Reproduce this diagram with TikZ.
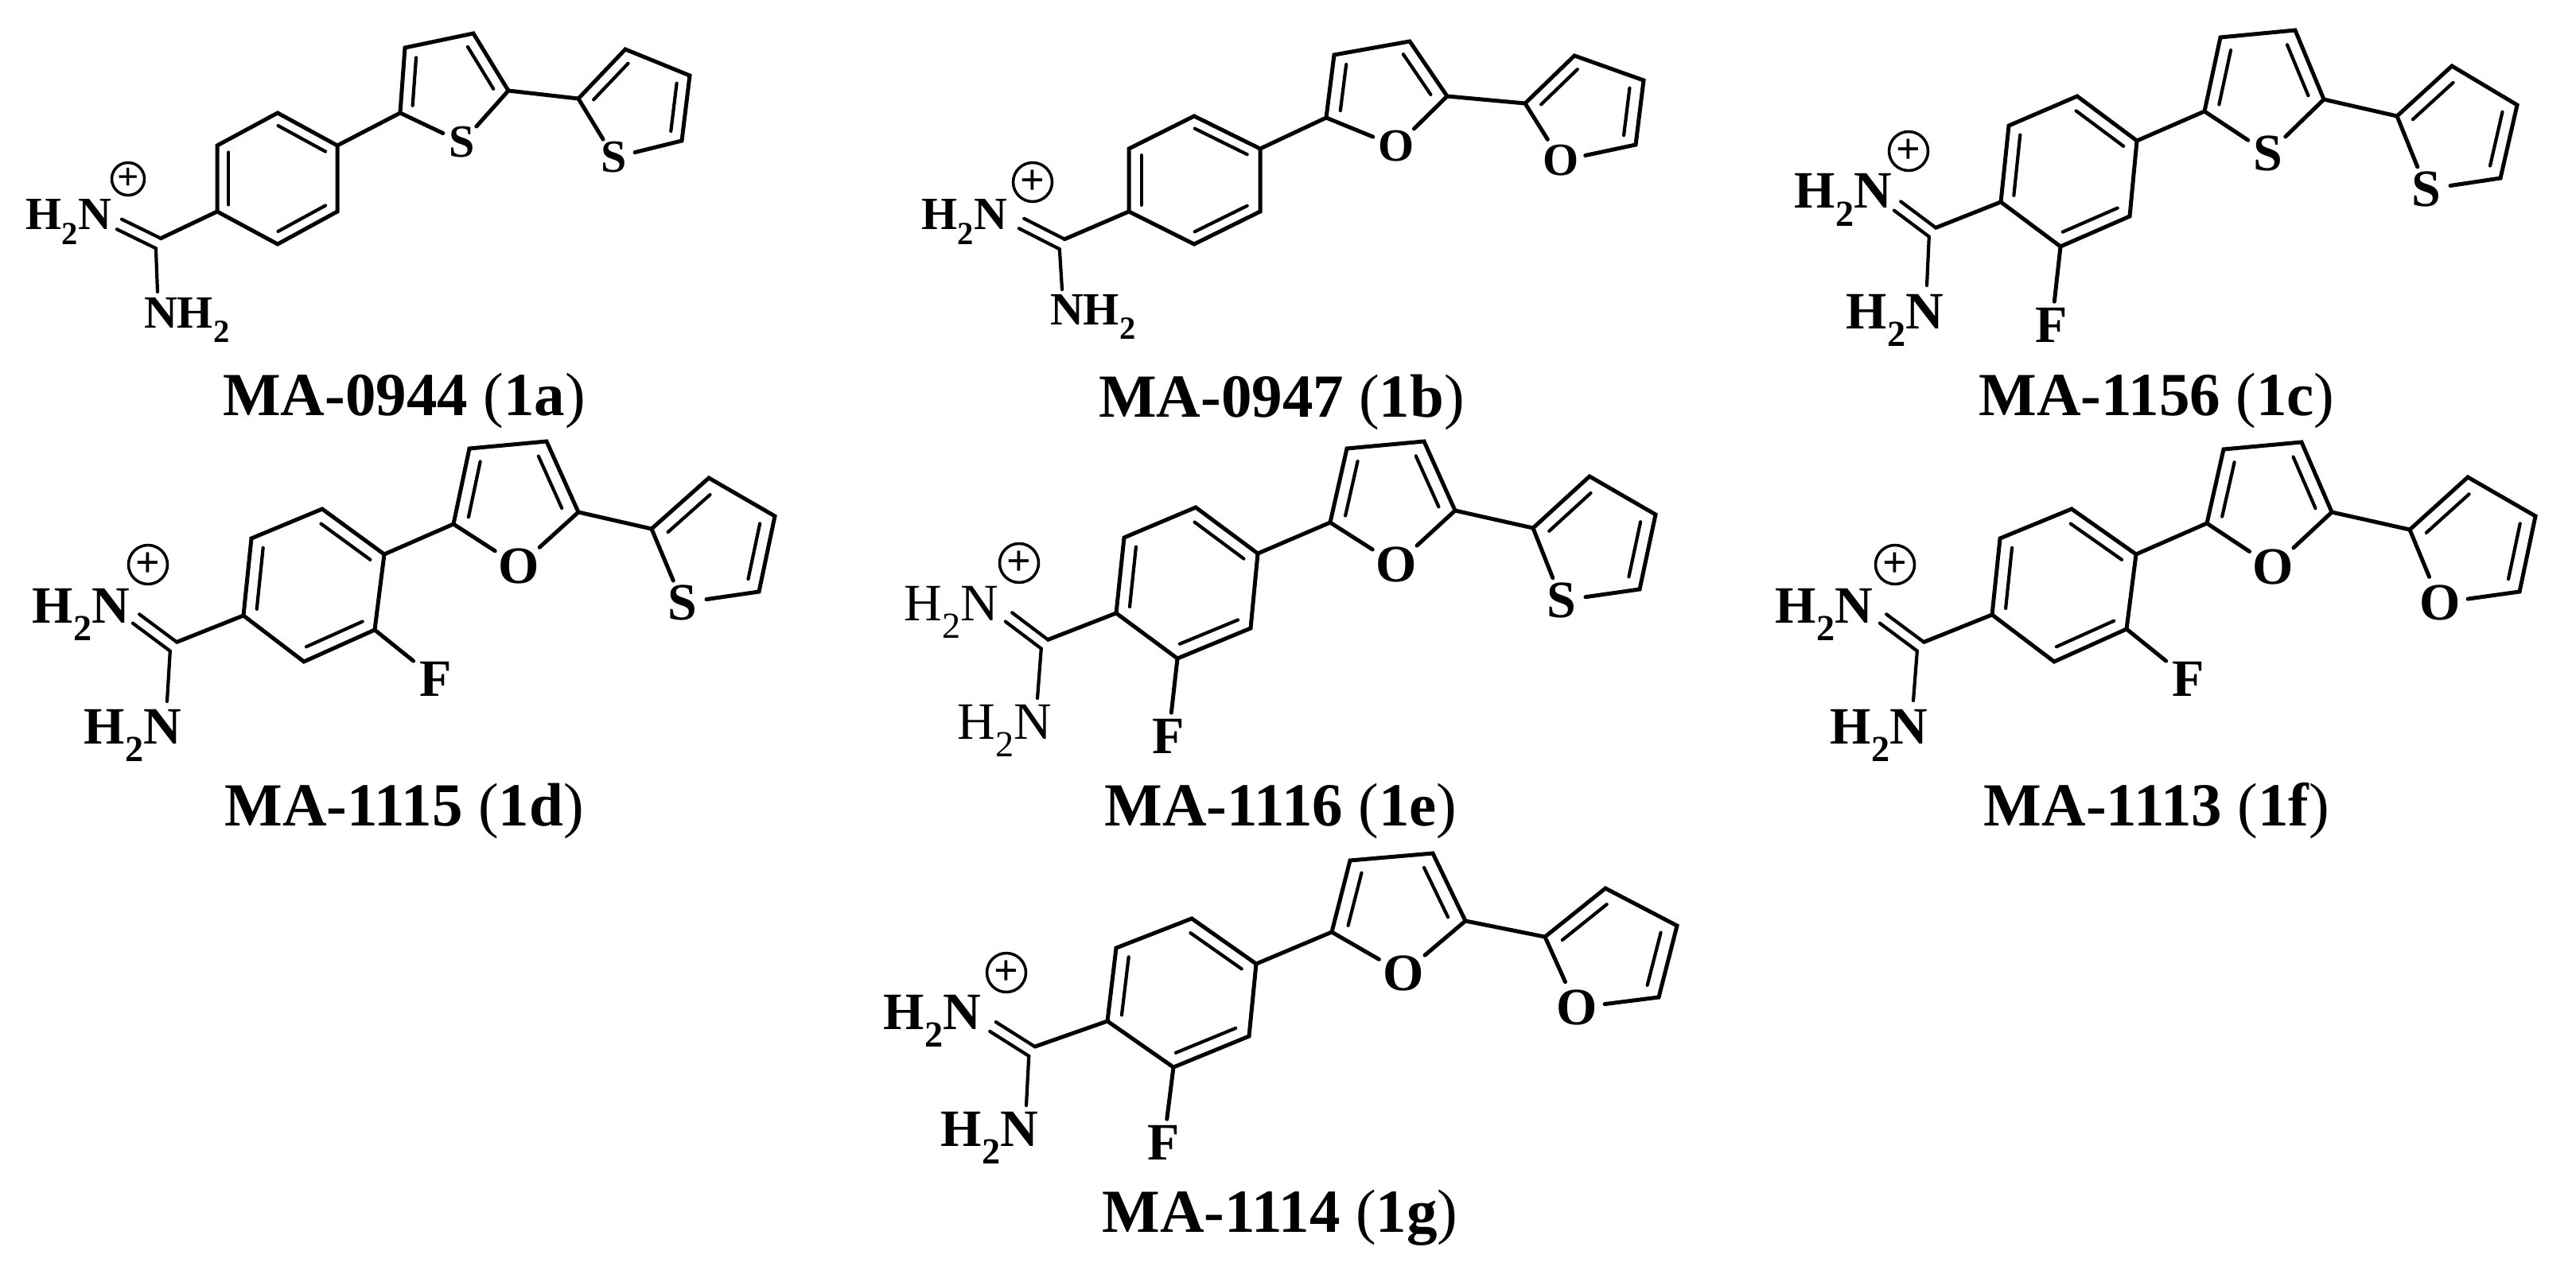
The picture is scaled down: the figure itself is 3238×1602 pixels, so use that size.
\documentclass[tikz,border=0pt]{standalone}
\usepackage{fontspec}
\setmainfont{Liberation Serif}
\usetikzlibrary{calc}

\tikzset{
    bond/.style={line width=5pt, line join=miter, line cap=round},
    innerbond/.style={line width=4.2pt, line cap=round},
    atomsm/.style={font=\bfseries\fontsize{58}{60}\selectfont, inner sep=5pt},
    atomlg/.style={font=\bfseries\fontsize{66}{68}\selectfont, inner sep=8pt},
    atomthin/.style={font=\fontsize{66}{68}\selectfont, inner sep=5pt},
    heterosm/.style={atomsm, circle, inner sep=1pt},
    heterolg/.style={atomlg, circle, inner sep=1pt},
    plussm/.style={circle, draw, line width=3.5pt, minimum size=41pt, inner sep=0pt, font=\bfseries\fontsize{48}{50}\selectfont},
    pluslg/.style={circle, draw, line width=3.5pt, minimum size=49pt, inner sep=0pt, font=\bfseries\fontsize{54}{56}\selectfont},
    molname/.style={anchor=base, inner sep=0pt, font=\bfseries\fontsize{77}{79}\selectfont}
}

% second line of a double bond, moved towards the ring centre
\newcommand{\innerline}[4]{
    \draw[innerbond] ($(#1)!0.01!(#2)!#4!(#3)$) -- ($(#1)!0.99!(#2)!#4!(#3)$);
}

% rings and links of one molecule, all named with the prefix #1
\newcommand{\skeleton}[1]{
    \coordinate (#1pc) at (barycentric cs:#1b1=1,#1b2=1,#1b3=1,#1b4=1,#1b5=1,#1b6=1);
    \coordinate (#1qc) at (barycentric cs:#1X=1,#1r1=1,#1r2=1,#1r3=1,#1r4=1);
    \coordinate (#1sc) at (barycentric cs:#1Y=1,#1s1=1,#1s2=1,#1s3=1,#1s4=1);
    \coordinate (#1cu) at ($(#1v)!7pt!-90:(#1ne)$);
    \coordinate (#1cd) at ($(#1v)!7pt!90:(#1ne)$);
    \coordinate (#1nu) at ($(#1ne)!7pt!90:(#1v)$);
    \coordinate (#1nd) at ($(#1ne)!7pt!-90:(#1v)$);
    % phenyl
    \draw[bond] (#1b1) -- (#1b2) -- (#1b3) -- (#1b4) -- (#1b5) -- (#1b6) -- cycle;
    \innerline{#1b1}{#1b2}{#1pc}{0.19}
    \innerline{#1b3}{#1b4}{#1pc}{0.19}
    \innerline{#1b5}{#1b6}{#1pc}{0.19}
    % first five-membered ring
    \draw[bond] (#1X) -- (#1r1) -- (#1r2) -- (#1r3) -- (#1r4) -- (#1X);
    \innerline{#1r1}{#1r2}{#1qc}{0.25}
    \innerline{#1r3}{#1r4}{#1qc}{0.25}
    % second five-membered ring
    \draw[bond] (#1Y) -- (#1s1) -- (#1s2) -- (#1s3) -- (#1s4) -- (#1Y);
    \innerline{#1s1}{#1s2}{#1sc}{0.25}
    \innerline{#1s3}{#1s4}{#1sc}{0.25}
    % links
    \draw[bond] (#1b2) -- (#1r1);
    \draw[bond] (#1r4) -- (#1s1);
    % amidine
    \draw[bond] (#1b5) -- (#1cu);
    \draw[innerbond] (#1cu) -- (#1nu);
    \draw[innerbond] (#1cd) -- (#1nd);
    \draw[innerbond] (#1cd) -- (#1nh);
}

\begin{document}
\begin{tikzpicture}[x=1pt, y=-1pt]
    \useasboundingbox (0,0) rectangle (3238,1602);

    % MA-0944
    \foreach \n/\p in {b1/{349,142},b2/{424,183},b3/{424,266},b4/{349,307},b5/{273,266},b6/{273,183},
        r1/{503,142},r2/{509,60},r3/{595,42},r4/{639,114},
        s1/{727,124},s2/{786,62},s3/{867,95},s4/{857,177},
        v/{199,306},ne/{150,282},nh/{198,367}}
        {\coordinate (a\n) at (\p);}
    \node[heterosm] (aX) at (581,179) {S};
    \node[heterosm] (aY) at (772,198) {S};
    \node[atomsm, anchor=base, inner sep=0pt] (aNa) at (86,289) {H\textsubscript{2}N};
    \node[atomsm, anchor=base, inner sep=0pt] (aNb) at (235,412) {NH\textsubscript{2}};
    \node[plussm] (aP) at (161,225) {+};
    \node[molname] (aT) at (508,522) {MA-0944 {\mdseries(}1a{\mdseries)}};
    \skeleton{a}

    % MA-0947
    \foreach \n/\p in {b1/{1501,146},b2/{1584,187},b3/{1584,266},b4/{1501,307},b5/{1419,266},b6/{1419,187},
        r1/{1667,148},r2/{1677,69},r3/{1772,52},r4/{1819,121},
        s1/{1917,130},s2/{1979,70},s3/{2066,101},s4/{2056,182},
        v/{1335,307},ne/{1284,281},nh/{1335,364}}
        {\coordinate (b\n) at (\p);}
    \node[heterosm] (bX) at (1755,184) {O};
    \node[heterosm] (bY) at (1962,202) {O};
    \node[atomsm, anchor=base, inner sep=0pt] (bNa) at (1212,289) {H\textsubscript{2}N};
    \node[atomsm, anchor=base, inner sep=0pt] (bNb) at (1374,408) {NH\textsubscript{2}};
    \node[pluslg] (bP) at (1298,229) {+};
    \node[molname] (bT) at (1611,524) {MA-0947 {\mdseries(}1b{\mdseries)}};
    \skeleton{b}

    % MA-1156
    \foreach \n/\p in {b1/{2611,121},b2/{2686,177},b3/{2677,272},b4/{2590,310},b5/{2515,254},b6/{2525,158},
        r1/{2771,140},r2/{2791,47},r3/{2885,38},r4/{2921,125},
        s1/{3013,146},s2/{3082,83},s3/{3164,132},s4/{3143,224},
        v/{2429,292},ne/{2385,259},nh/{2422,359}}
        {\coordinate (c\n) at (\p);}
    \node[heterolg] (cX) at (2851,193) {S};
    \node[heterolg] (cY) at (3050,238) {S};
    \node[atomlg, anchor=base, inner sep=0pt] (cNa) at (2317,262) {H\textsubscript{2}N};
    \node[atomlg, anchor=base, inner sep=0pt] (cNb) at (2382,413) {H\textsubscript{2}N};
    \node[atomlg] (cF) at (2579,409) {F};
    \node[pluslg] (cP) at (2399,190) {+};
    \node[molname] (cT) at (2711,522) {MA-1156 {\mdseries(}1c{\mdseries)}};
    \skeleton{c}
    \draw[bond] (cb4) -- (cF);

    % MA-1115
    \foreach \n/\p in {b1/{405,640},b2/{483,697},b3/{471,792},b4/{382,832},b5/{306,774},b6/{316,677},
        r1/{570,659},r2/{590,564},r3/{687,555},r4/{727,644},
        s1/{819,665},s2/{891,601},s3/{974,649},s4/{954,744},
        v/{218,813},ne/{171,778},nh/{210,882}}
        {\coordinate (d\n) at (\p);}
    \node[heterolg] (dX) at (652,712) {O};
    \node[heterolg] (dY) at (858,758) {S};
    \node[atomlg, anchor=base, inner sep=0pt] (dNa) at (102,783) {H\textsubscript{2}N};
    \node[atomlg, anchor=base, inner sep=0pt] (dNb) at (167,935) {H\textsubscript{2}N};
    \node[atomlg] (dF) at (548,854) {F};
    \node[pluslg] (dP) at (186,710) {+};
    \node[molname] (dT) at (508,1038) {MA-1115 {\mdseries(}1d{\mdseries)}};
    \skeleton{d}
    \draw[bond] (db3) -- (dF);

    % MA-1116
    \foreach \n/\p in {b1/{1503,638},b2/{1581,696},b3/{1572,790},b4/{1480,828},b5/{1403,771},b6/{1413,676},
        r1/{1672,657},r2/{1693,564},r3/{1790,555},r4/{1829,642},
        s1/{1927,664},s2/{1998,599},s3/{2081,647},s4/{2061,741},
        v/{1313,810},ne/{1268,776},nh/{1304,878}}
        {\coordinate (e\n) at (\p);}
    \node[heterolg] (eX) at (1755,710) {O};
    \node[heterolg] (eY) at (1963,755) {S};
    \node[atomthin, anchor=base, inner sep=0pt] (eNa) at (1196,780) {H\textsubscript{2}N};
    \node[atomthin, anchor=base, inner sep=0pt] (eNb) at (1263,929) {H\textsubscript{2}N};
    \node[atomlg] (eF) at (1469,926) {F};
    \node[pluslg] (eP) at (1281,708) {+};
    \node[molname] (eT) at (1610,1038) {MA-1116 {\mdseries(}1e{\mdseries)}};
    \skeleton{e}
    \draw[bond] (eb4) -- (eF);

    % MA-1113
    \foreach \n/\p in {b1/{2604,640},b2/{2685,697},b3/{2673,791},b4/{2582,832},b5/{2504,773},b6/{2514,677},
        r1/{2774,658},r2/{2795,565},r3/{2893,556},r4/{2931,644},
        s1/{3029,666},s2/{3102,600},s3/{3187,649},s4/{3167,744},
        v/{2414,813},ne/{2367,778},nh/{2405,881}}
        {\coordinate (f\n) at (\p);}
    \node[heterolg] (fX) at (2857,713) {O};
    \node[heterolg] (fY) at (3067,758) {O};
    \node[atomlg, anchor=base, inner sep=0pt] (fNa) at (2293,783) {H\textsubscript{2}N};
    \node[atomlg, anchor=base, inner sep=0pt] (fNb) at (2362,935) {H\textsubscript{2}N};
    \node[atomlg] (fF) at (2751,854) {F};
    \node[pluslg] (fP) at (2382,710) {+};
    \node[molname] (fT) at (2711,1038) {MA-1113 {\mdseries(}1f{\mdseries)}};
    \skeleton{f}
    \draw[bond] (fb3) -- (fF);

    % MA-1114
    \foreach \n/\p in {b1/{1498,1155},b2/{1579,1212},b3/{1570,1303},b4/{1475,1342},b5/{1392,1284},b6/{1403,1192},
        r1/{1674,1172},r2/{1697,1082},r3/{1801,1073},r4/{1842,1158},
        s1/{1942,1178},s2/{2018,1117},s3/{2108,1164},s4/{2085,1254},
        v/{1297,1322},ne/{1248,1291},nh/{1290,1390}}
        {\coordinate (g\n) at (\p);}
    \node[heterolg] (gX) at (1764,1224) {O};
    \node[heterolg] (gY) at (1982,1267) {O};
    \node[atomlg, anchor=base, inner sep=0pt] (gNa) at (1172,1294) {H\textsubscript{2}N};
    \node[atomlg, anchor=base, inner sep=0pt] (gNb) at (1244,1441) {H\textsubscript{2}N};
    \node[atomlg] (gF) at (1463,1437) {F};
    \node[pluslg] (gP) at (1265,1223) {+};
    \node[molname] (gT) at (1609,1549) {MA-1114 {\mdseries(}1g{\mdseries)}};
    \skeleton{g}
    \draw[bond] (gb4) -- (gF);
\end{tikzpicture}
\end{document}
